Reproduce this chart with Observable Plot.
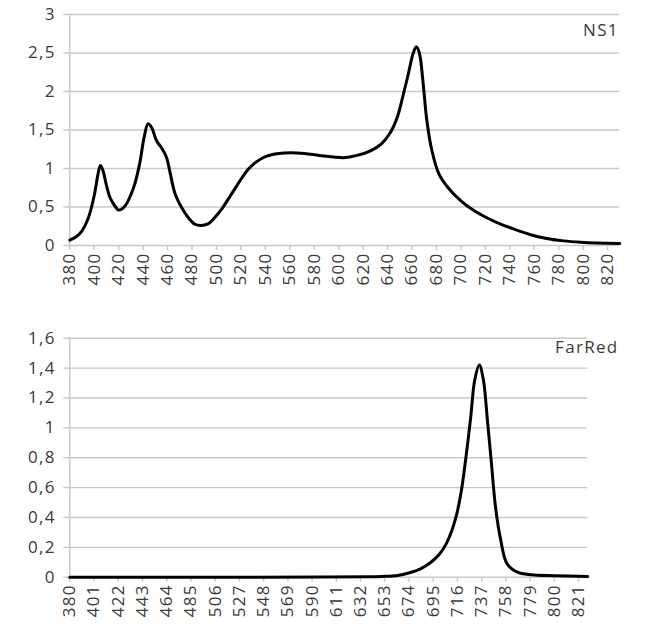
<!DOCTYPE html>
<html>
<head>
<meta charset="utf-8">
<script src="https://cdn.jsdelivr.net/npm/d3@7"></script>
<script src="https://cdn.jsdelivr.net/npm/@observablehq/plot@0.6"></script>
<style>
  html, body { margin: 0; padding: 0; background: #fff; }
  #chart svg { display: block; }
  #chart svg text { letter-spacing: 1.3px; }
</style>
</head>
<body>
<div id="chart"></div>
<script>
// ---- NS1 spectrum ----
const nsWavelengths = [380, 385, 390, 395, 400, 403, 405, 407, 410, 413, 417, 420, 425, 430, 433, 437, 441, 444, 447, 451, 455, 459, 462, 466, 472, 477, 482, 487, 493, 499, 505, 512, 520, 526, 532, 541, 551, 561, 572, 584, 596, 604, 615, 626, 635, 642, 648, 653, 657, 661, 663.5, 666, 669, 672, 676, 682, 689, 700, 710, 720, 730, 743, 757, 770, 784, 798, 811, 830];
const nsValues      = [0.07, 0.11, 0.19, 0.35, 0.65, 0.92, 1.04, 0.98, 0.78, 0.62, 0.51, 0.46, 0.51, 0.66, 0.79, 1.05, 1.42, 1.58, 1.53, 1.36, 1.27, 1.15, 0.95, 0.68, 0.48, 0.36, 0.28, 0.26, 0.28, 0.37, 0.49, 0.66, 0.86, 0.99, 1.08, 1.16, 1.195, 1.205, 1.195, 1.17, 1.15, 1.14, 1.17, 1.23, 1.32, 1.46, 1.67, 1.97, 2.23, 2.50, 2.58, 2.50, 2.12, 1.64, 1.25, 0.93, 0.76, 0.58, 0.46, 0.37, 0.295, 0.215, 0.14, 0.09, 0.06, 0.042, 0.032, 0.026];
const nsXTicks = [380, 400, 420, 440, 460, 480, 500, 520, 540, 560, 580, 600, 620, 640, 660, 680, 700, 720, 740, 760, 780, 800, 820];
const nsYTicks = [0, 0.5, 1, 1.5, 2, 2.5, 3];
const nsLabel = "NS1";

// ---- FarRed spectrum ----
const frWavelengths = [380, 500, 600, 640, 650, 664, 676, 684, 693, 700, 706, 711, 715, 719, 723, 727.5, 731, 735, 738.5, 742, 745.5, 749, 753.5, 759, 768, 780, 800, 829];
const frValues      = [0, 0, 0.001, 0.003, 0.005, 0.011, 0.033, 0.056, 0.10, 0.15, 0.22, 0.31, 0.41, 0.56, 0.78, 1.07, 1.32, 1.42, 1.32, 1.05, 0.76, 0.47, 0.25, 0.09, 0.034, 0.016, 0.010, 0.005];
const frXTicks = [380, 401, 422, 443, 464, 485, 506, 527, 548, 569, 590, 611, 632, 653, 674, 695, 716, 737, 758, 779, 800, 821];
const frYTicks = [0, 0.2, 0.4, 0.6, 0.8, 1, 1.2, 1.4, 1.6];
const frLabel = "FarRed";

const gridColor = "#c8c8c8";
const textColor = "#3a3a3a";
const fmt = d => String(d).replace(".", ",");

function panel({xs, ys, xDomain, yDomain, xTicks, yTicks, label, height, mt, mb, mr, labelDx, labelDy}) {
  const data = xs.map((x, i) => ({x, y: ys[i]}));
  return Plot.plot({
    width: 659,
    height,
    marginLeft: 69.3,
    marginRight: mr,
    marginTop: mt,
    marginBottom: mb,
    style: {fontFamily: "'Open Sans', sans-serif", fontSize: "17px", color: textColor, background: "white", overflow: "visible"},
    x: {domain: xDomain},
    y: {domain: yDomain},
    marks: [
      Plot.gridY(yTicks, {stroke: gridColor, strokeOpacity: 1, strokeWidth: 1.4}),
      Plot.ruleX([xDomain[0]], {stroke: gridColor, strokeWidth: 1.4}),
      Plot.axisY({ticks: yTicks, tickSize: 6, tickPadding: 8, tickFormat: fmt, stroke: gridColor, strokeWidth: 1.4, fill: textColor, label: null, fontSize: 17}),
      Plot.axisX({ticks: xTicks, tickSize: 5, tickPadding: 2, tickRotate: -90, tickFormat: d => String(d), stroke: gridColor, strokeWidth: 1.4, fill: textColor, label: null, fontSize: 17}),
      Plot.line(data, {x: "x", y: "y", curve: "catmull-rom", stroke: "black", strokeWidth: 3}),
      Plot.text([label], {frameAnchor: "top-right", textAnchor: "end", lineAnchor: "top", dx: labelDx, dy: labelDy, fontSize: 17, fill: textColor})
    ]
  });
}

const root = document.getElementById("chart");
root.append(panel({
  xs: nsWavelengths, ys: nsValues, xDomain: [380, 830], yDomain: [0, 3],
  xTicks: nsXTicks, yTicks: nsYTicks, label: nsLabel,
  height: 300, mt: 14, mb: 55, mr: 39.7, labelDx: -1, labelDy: 9
}));
root.append(panel({
  xs: frWavelengths, ys: frValues, xDomain: [380, 829], yDomain: [0, 1.6],
  xTicks: frXTicks, yTicks: frYTicks, label: frLabel,
  height: 330, mt: 37.7, mb: 53.3, mr: 71.7, labelDx: 30.7, labelDy: 3
}));
</script>
</body>
</html>
